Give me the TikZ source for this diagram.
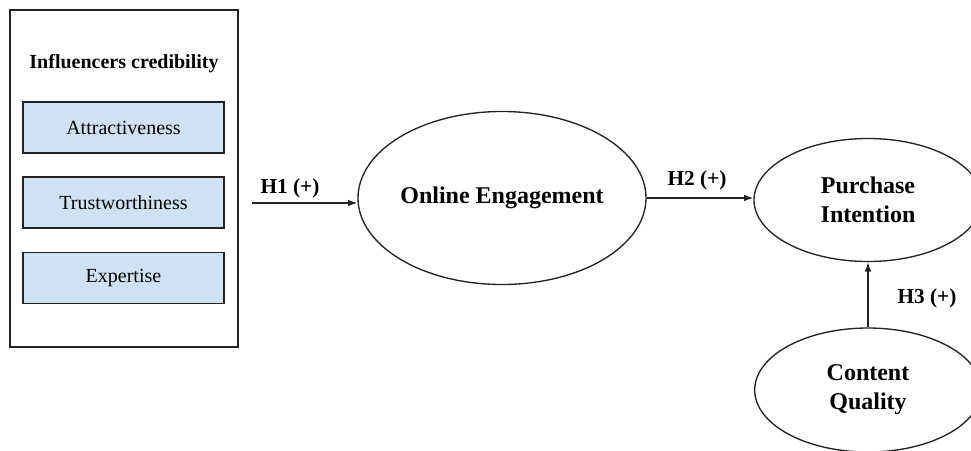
\documentclass[tikz,border=0pt]{standalone}
\usepackage{fontspec}
\setmainfont{Liberation Serif}
\usetikzlibrary{arrows.meta, positioning, shapes.geometric}
\definecolor{cblue}{HTML}{CFE2F3}
\definecolor{cline}{HTML}{222222}
\tikzset{
  every picture/.style={line width=1pt},
  group/.style={draw=cline, minimum width=171pt, minimum height=252.75pt, inner sep=0pt},
  dimbox/.style={draw=cline, fill=cblue, minimum width=150.75pt, minimum height=38.25pt, inner sep=0pt, font=\fontsize{15}{18}\selectfont},
  construct/.style={draw=cline, ellipse, align=center, inner sep=0pt, font=\fontsize{18}{21.6}\selectfont\bfseries},
  arrow/.style={-{Latex[length=7pt, width=5pt]}, draw=cline},
  hyp/.style={font=\fontsize{16}{19}\selectfont\bfseries},
}

\begin{document}
\begin{tikzpicture}[x=0.75pt, y=-0.75pt]
  \useasboundingbox (0,0) rectangle (971,450);
  % credibility block
  \node[group] (cred) at (124,178.5) {};
  \node[font=\fontsize{15}{18}\selectfont\bfseries] (credtitle) at (124,64) {Influencers credibility};
  \foreach \n/\t/\y in {attr/Attractiveness/127.5, trust/Trustworthiness/202.5, expert/Expertise/278}
    \node[dimbox] (\n) at (123.5,\y) {\t};
  % constructs
  \node[construct, minimum width=216pt, minimum height=129.75pt] (oe) at (502,198) {Online Engagement};
  \node[construct, minimum width=171pt, minimum height=92.25pt] (pi) at (868,200) {Purchase\\Intention};
  \node[construct, minimum width=170pt, minimum height=93pt] (cq) at (868,390) {Content\\Quality};
  % paths
  \coordinate (in) at (252,203);
  \draw[arrow] (in) -- (in -| oe.west);
  \draw[arrow] (oe.east) -- (oe.east -| pi.west);
  \draw[arrow] (cq.north) -- (pi.south);
  \node[hyp] (h1) at (290,188) {H1 (+)};
  \node[hyp] (h2) at (697,180) {H2 (+)};
  \node[hyp] (h3) at (927,298) {H3 (+)};
\end{tikzpicture}
\end{document}
